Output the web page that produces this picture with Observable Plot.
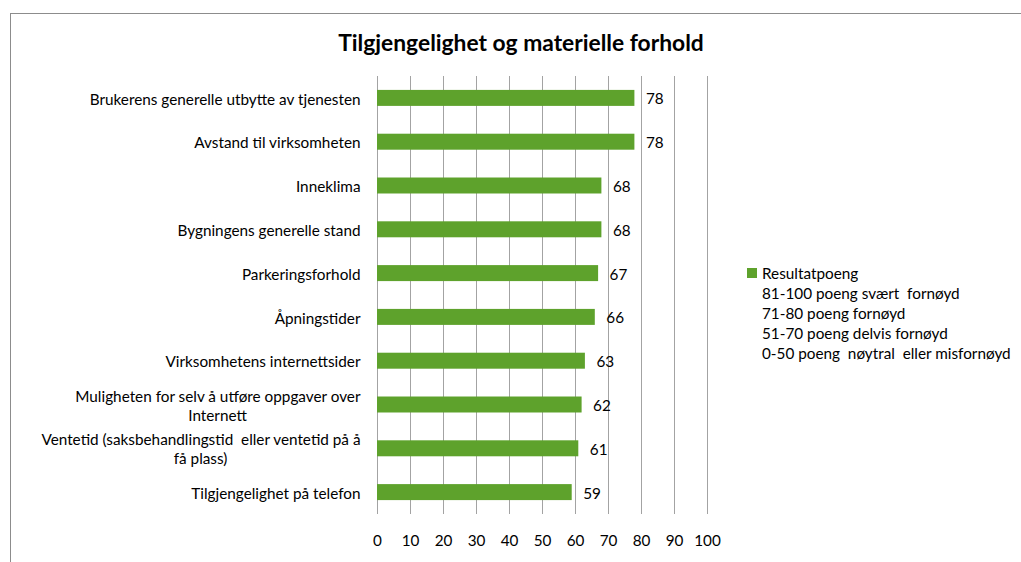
<!DOCTYPE html>
<html><head><meta charset="utf-8">
<script src="https://cdn.jsdelivr.net/npm/d3@7"></script>
<script src="https://cdn.jsdelivr.net/npm/@observablehq/plot@0.6"></script>
<style>
body{margin:0;background:#fff;}
#wrap{position:relative;width:1021px;height:562px;overflow:hidden;font-family:Lato,sans-serif;color:#000;}
#frame{position:absolute;left:10px;top:13px;width:1030px;height:600px;border:1px solid #8c8c8c;box-sizing:border-box;}
#title{position:absolute;left:0;width:1042px;top:27px;text-align:center;font-weight:bold;font-size:22.8px;line-height:30px;}
#chart{position:absolute;left:0;top:0;}
#legend{position:absolute;left:747px;top:263px;font-size:15.3px;}
#legend div{height:20px;line-height:20px;white-space:pre;padding-left:15px;position:relative;}
#legend .sw{position:absolute;left:0;top:5px;width:10px;height:10px;padding:0;}
</style></head>
<body>
<div id="wrap">
  <div id="frame"></div>
  <div id="title"></div>
  <div id="chart"></div>
  <div id="legend"></div>
</div>
<script>
const titleText = "Tilgjengelighet og materielle forhold";
const categories = [
  "Brukerens generelle utbytte av tjenesten",
  "Avstand til virksomheten",
  "Inneklima",
  "Bygningens generelle stand",
  "Parkeringsforhold",
  "Åpningstider",
  "Virksomhetens internettsider",
  "Muligheten for selv å utføre oppgaver over\nInternett",
  "Ventetid (saksbehandlingstid  eller ventetid på å\nfå plass)",
  "Tilgjengelighet på telefon"
];
const values = [78, 78, 68, 68, 67, 66, 63, 62, 61, 59];
const xTicks = [0, 10, 20, 30, 40, 50, 60, 70, 80, 90, 100];
const seriesName = "Resultatpoeng";
const legendNotes = [
  "81-100 poeng svært  fornøyd",
  "71-80 poeng fornøyd",
  "51-70 poeng delvis fornøyd",
  "0-50 poeng  nøytral  eller misfornøyd"
];

const green = "#5ea22c";
const gridColor = "#a3a3a3";
const fs = 15.3;
const font = "Lato, sans-serif";

document.getElementById("title").textContent = titleText;
const leg = document.getElementById("legend");
const first = document.createElement("div");
first.innerHTML = `<span class="sw" style="background:${green}"></span>`;
first.appendChild(document.createTextNode(seriesName));
leg.appendChild(first);
for (const n of legendNotes) {
  const d = document.createElement("div");
  d.textContent = n;
  leg.appendChild(d);
}

// center wrapped lines like the original by padding with no-break spaces
const ctx = document.createElement("canvas").getContext("2d");
ctx.font = `${fs}px ${font}`;
const nb = "\u00A0";
const wsp = ctx.measureText(nb).width || fs * 0.25;
function centerLines(s) {
  const lines = s.split("\n");
  if (lines.length < 2) return s;
  const w = lines.map(l => ctx.measureText(l).width);
  const max = Math.max(...w);
  return lines.map((l, i) => l + nb.repeat(Math.max(0, Math.round((max - w[i]) / 2 / wsp)))).join("\n");
}

const data = categories.map((c, i) => ({cat: c, value: values[i], label: centerLines(c)}));

const chart = Plot.plot({
  width: 1021,
  height: 562,
  marginLeft: 377,
  marginRight: 314,
  marginTop: 76,
  marginBottom: 48,
  style: {background: "transparent", fontFamily: font, fontSize: fs + "px", color: "#000", overflow: "visible"},
  x: {domain: [0, 100], axis: null, label: null},
  y: {domain: categories, paddingInner: 0.635, paddingOuter: 0.3175, round: false, axis: null, label: null},
  marks: [
    Plot.gridX(xTicks, {stroke: gridColor, strokeOpacity: 1, strokeWidth: 1}),
    Plot.axisX(xTicks, {tickSize: 0, tickPadding: 21, line: true, stroke: gridColor, fontSize: fs, fill: "#000", label: null}),
    Plot.barX(data, {x: "value", y: "cat", fill: green, insetTop: 0, insetBottom: 0}),
    Plot.text(data, {x: "value", y: "cat", text: d => String(d.value), textAnchor: "start", dx: 11, dy: 1, fontSize: fs, fill: "#000"}),
    Plot.text(data, {y: "cat", text: "label", frameAnchor: "left", textAnchor: "end", dx: -17, lineHeight: 1.25, fontSize: fs, fill: "#000"})
  ]
});
document.getElementById("chart").appendChild(chart);
</script>
</body></html>
